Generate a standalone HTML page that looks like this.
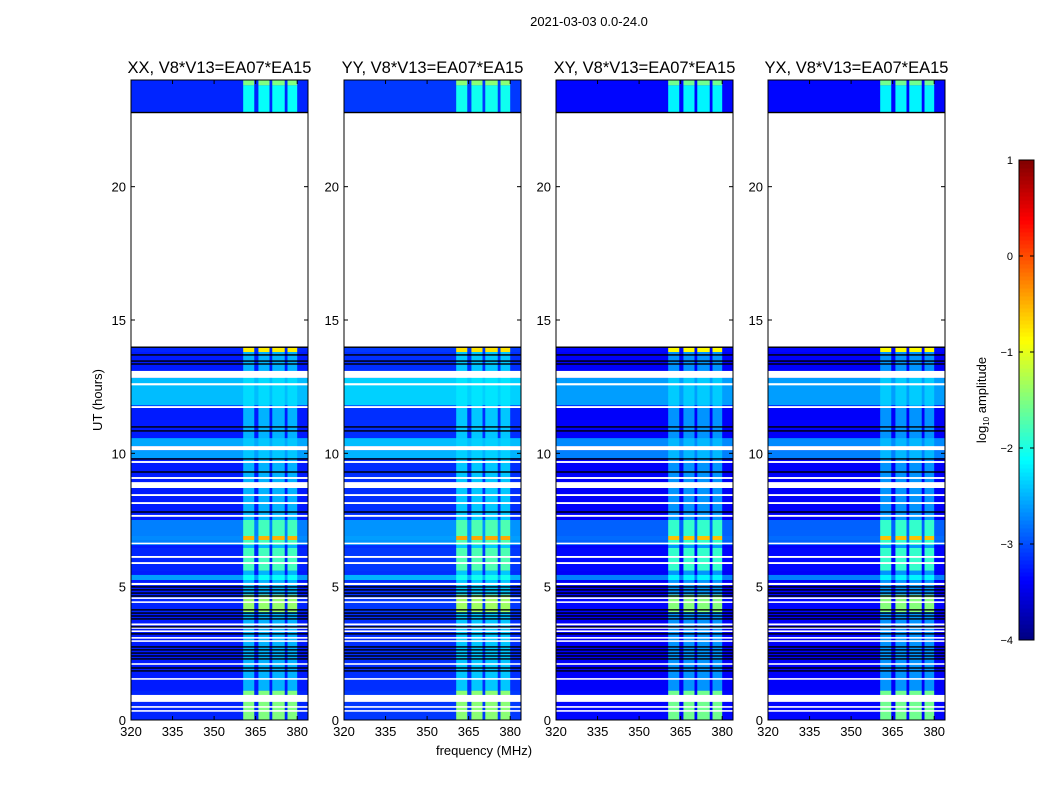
<!DOCTYPE html>
<html><head><meta charset="utf-8"><style>
body{margin:0;background:#fff;font-family:"Liberation Sans",sans-serif;}
svg text{font-family:"Liberation Sans",sans-serif;fill:#000;}
</style></head><body>
<svg id="fig" width="1050" height="800" viewBox="0 0 1050 800" xmlns="http://www.w3.org/2000/svg">
<rect width="1050" height="800" fill="#fff"/>
<text x="589" y="26" font-size="13" text-anchor="middle">2021-03-03 0.0-24.0</text>
<text transform="translate(102,400) rotate(-90)" font-size="13" text-anchor="middle">UT (hours)</text>
<text x="484" y="755" font-size="13" text-anchor="middle">frequency (MHz)</text>
<g id="panels"></g>
<g id="cbar"></g>
</svg>
<script>
// ---- data ----
const panelTitles = ["XX, V8*V13=EA07*EA15","YY, V8*V13=EA07*EA15","XY, V8*V13=EA07*EA15","YX, V8*V13=EA07*EA15"];
const panelOffsets = [0, 0.1, -0.15, -0.15];
const freqTicks = [320,335,350,365,380];
const timeTicks = [0,5,10,15,20];
const cbarTicks = [-4,-3,-2,-1,0,1];
const rfiBands = [[360.5,364.5],[366,370],[371,375.5],[376.5,380]];
const baseLevel = -3.25;
const baseRfi = -2.5;
// [h0,h1,bgLevel,rfiLevel]
const segments = [
 [22.8,24,-3.2,-2.1],[23.8,24,-3.2,-1.5],
 [13.8,14.0,-3.2,-0.8],[11.8,12.83,-2.45,-2.3],[10.27,10.57,-2.55,-2.4],[9.82,10.12,-2.6,-2.4],
 [6.56,7.5,-2.75,-1.8],[6.75,6.9,-2.7,-0.5],[5.6,6.45,-3.2,-1.8],[5.25,5.44,-2.6,-2.1],
 [4.05,4.7,-3.2,-1.4],[0,1.1,-3.2,-1.5]
];
const gaps = [[14.0,22.8],[12.83,13.09],[12.55,12.63],[11.7,11.77],[10.12,10.27],[9.64,9.71],[9.04,9.11],[8.7,8.92],[8.4,8.47],[8.1,8.17],[7.62,7.69],[6.6,6.65],[6.08,6.15],[5.85,5.92],[5.06,5.14],[4.54,4.6],[4.39,4.45],[3.55,3.62],[3.42,3.48],[3.3,3.36],[3.05,3.11],[2.93,2.99],[2.07,2.13],[1.51,1.57],[0.68,0.94],[0.46,0.52],[0.31,0.37]];
const flagged = [22.78,13.98,13.69,13.46,13.35,10.99,10.84,9.79,9.30,7.80,4.99,4.88,4.76,4.65,4.13,4.01,3.90,3.79,3.49,3.23,2.74,2.63,2.51,2.40,2.29,1.95,1.84];

// ---- layout ----
const panelX = [131,344,556,768], panelW = 177, plotTop = 80, plotBot = 720;
const fMin = 320, fMax = 383.9;
const NS = "http://www.w3.org/2000/svg";
function jet(v){
  let t = (v+4)/5; t = Math.max(0,Math.min(1,t));
  const c = x => Math.round(255*Math.max(0,Math.min(1,x)));
  return `rgb(${c(1.5-Math.abs(4*t-3))},${c(1.5-Math.abs(4*t-2))},${c(1.5-Math.abs(4*t-1))})`;
}
function mk(tag, attrs, parent){
  const e = document.createElementNS(NS, tag);
  for (const k in attrs) e.setAttribute(k, attrs[k]);
  parent.appendChild(e); return e;
}
const yS = h => plotBot - (h/24)*(plotBot-plotTop);
const root = document.getElementById('panels');
panelTitles.forEach((title, p) => {
  const x0 = panelX[p];
  const xS = f => x0 + (f-fMin)/(fMax-fMin)*panelW;
  const g = mk('g', {}, root);
  
  
  const off = panelOffsets[p];
  const bg = mk('rect', {x:x0, y:plotTop, width:panelW, height:plotBot-plotTop, fill:jet(baseLevel+off)}, g);
  
  
  rfiBands.forEach(b => {
    const r = mk('rect', {x:xS(b[0]), y:plotTop, width:xS(b[1])-xS(b[0]), height:plotBot-plotTop, fill:jet(baseRfi+off)}, g);
    
    
  });
  segments.forEach(s => {
    const y1 = yS(s[1]), y0 = yS(s[0]);
    const r = mk('rect', {x:x0, y:y1, width:panelW, height:y0-y1, fill:jet(s[2]+off)}, g);
    
    
    rfiBands.forEach(b => {
      const rr = mk('rect', {x:xS(b[0]), y:y1, width:xS(b[1])-xS(b[0]), height:y0-y1, fill:jet(s[3]+off*0.5)}, g);
      
      
    });
  });
  gaps.forEach(gp => {
    const y1 = yS(gp[1]), y0 = yS(gp[0]);
    const r = mk('rect', {x:x0, y:y1, width:panelW, height:Math.max(1.5,y0-y1), fill:'#fff'}, g);
    
    
  });
  flagged.forEach(h => {
    const r = mk('rect', {x:x0, y:yS(h)-0.7, width:panelW, height:1.4, fill:'#000'}, g);
    
    
  });
  const fr = mk('rect', {x:x0, y:plotTop, width:panelW, height:plotBot-plotTop, fill:'none', stroke:'#000', 'stroke-width':1}, g);
  
  
  const tt = mk('text', {x:x0+panelW/2, y:73, 'font-size':16.5, 'text-anchor':'middle'}, g);
  tt.textContent = title;
  
  
  freqTicks.forEach(f => {
    const x = xS(f);
    mk('line', {x1:x, x2:x, y1:plotBot, y2:plotBot-4, stroke:'#000'}, g);
    mk('line', {x1:x, x2:x, y1:plotTop, y2:plotTop+4, stroke:'#000'}, g);
    const t = mk('text', {x:x, y:plotBot+16, 'font-size':13, 'text-anchor':'middle'}, g);
    t.textContent = f;
    
    
  });
  timeTicks.forEach(h => {
    const y = yS(h);
    mk('line', {x1:x0, x2:x0+4, y1:y, y2:y, stroke:'#000'}, g);
    mk('line', {x1:x0+panelW, x2:x0+panelW-4, y1:y, y2:y, stroke:'#000'}, g);
    const t = mk('text', {x:x0-5, y:y+5, 'font-size':13, 'text-anchor':'end'}, g);
    t.textContent = h;
    
    
  });
});
// colorbar
const cb = document.getElementById('cbar');
const cbX = 1019, cbW = 15, cbTop = 160, cbBot = 640;
const cbY = v => cbBot - (v+4)/5*(cbBot-cbTop);
for (let i=0;i<120;i++){
  const v0 = -4 + i*5/120, v1 = v0 + 5/120;
  mk('rect', {x:cbX, y:cbY(v1), width:cbW, height:cbY(v0)-cbY(v1)+0.5, fill:jet((v0+v1)/2)}, cb);
}
mk('rect', {x:cbX, y:cbTop, width:cbW, height:cbBot-cbTop, fill:'none', stroke:'#000'}, cb);
cbarTicks.forEach(v => {
  const y = cbY(v);
  mk('line', {x1:cbX, x2:cbX+4, y1:y, y2:y, stroke:'#000'}, cb);
  mk('line', {x1:cbX+cbW, x2:cbX+cbW-4, y1:y, y2:y, stroke:'#000'}, cb);
  const t = mk('text', {x:cbX-6, y:y+4, 'font-size':11, 'text-anchor':'end'}, cb);
  t.textContent = v < 0 ? '\u2212' + Math.abs(v) : v;
  
  
});
const cl = mk('text', {transform:'translate(986,400) rotate(-90)', 'font-size':13, 'text-anchor':'middle'}, cb);
cl.innerHTML = 'log<tspan font-size="8" dy="3">10</tspan><tspan dy="-3"> amplitude</tspan>';


</script>
</body></html>
